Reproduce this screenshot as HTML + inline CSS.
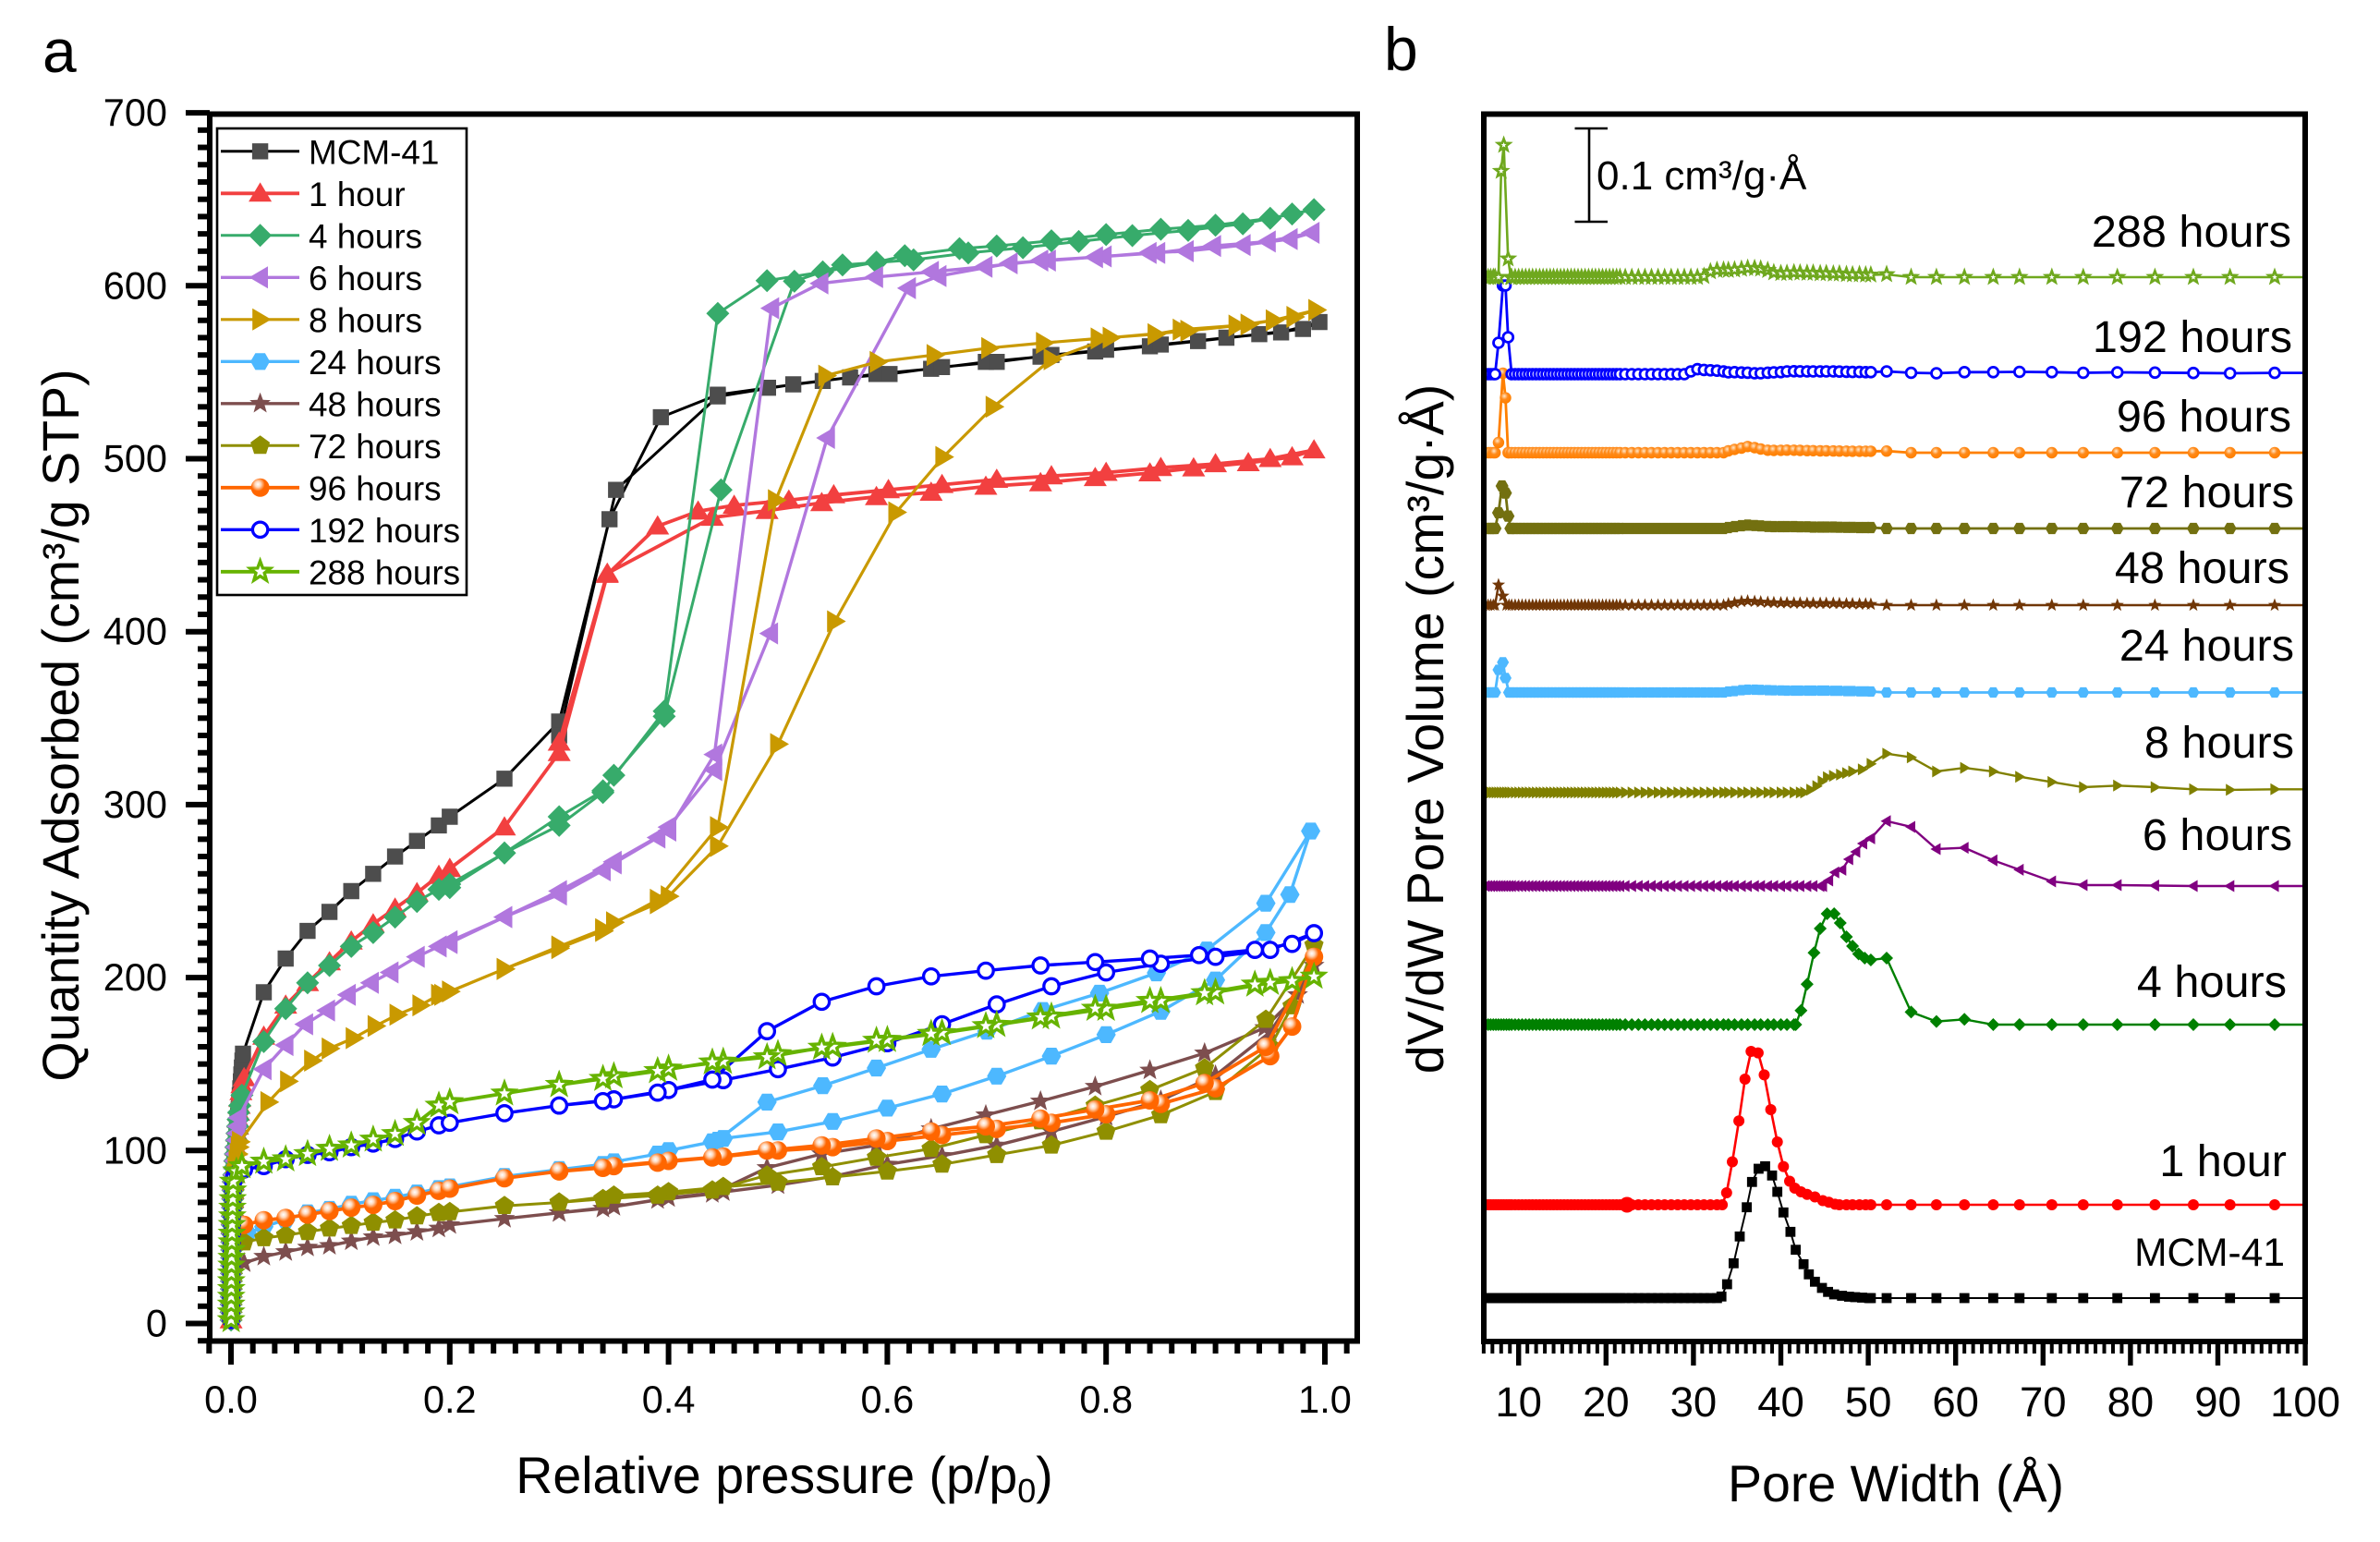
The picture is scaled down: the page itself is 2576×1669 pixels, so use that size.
<!DOCTYPE html>
<html lang="en">
<head>
<meta charset="utf-8">
<title>Nitrogen isotherms and pore size distributions</title>
<style>
html,body{margin:0;padding:0;background:#fff;}
svg{display:block;font-family:"Liberation Sans",sans-serif;fill:#000;}
</style>
</head>
<body>
<svg id="figure" xmlns="http://www.w3.org/2000/svg" width="2576" height="1669" viewBox="0 0 2576 1669">
<defs>
<radialGradient id="ballA" cx="0.38" cy="0.32" r="0.62"><stop offset="0" stop-color="#fff"/><stop offset="0.25" stop-color="#ffd9bd"/><stop offset="0.6" stop-color="#ff6600"/><stop offset="1" stop-color="#ff6600"/></radialGradient>
<radialGradient id="ballB" cx="0.4" cy="0.35" r="0.6"><stop offset="0" stop-color="#ffe6c8"/><stop offset="0.5" stop-color="#ff8a1a"/><stop offset="1" stop-color="#ff8000"/></radialGradient>
<clipPath id="clipB"><rect x="1606" y="123" width="889" height="1329"/></clipPath>
</defs>
<rect width="2576" height="1669" fill="#fff"/>
<text x="46" y="78" font-size="66">a</text>
<text x="1498" y="76" font-size="66">b</text>
<g id="panelA"></g>
<g id="panelB"></g>
<text transform="translate(85 785) rotate(-90)" text-anchor="middle" font-size="55.5">Quantity Adsorbed (cm³/g STP)</text>
<text x="849" y="1616" text-anchor="middle" font-size="55.5">Relative pressure (p/p<tspan font-size="36" dy="10">0</tspan><tspan dy="-10">)</tspan></text>
<text transform="translate(1562 789) rotate(-90)" text-anchor="middle" font-size="55.5">dV/dW Pore Volume (cm³/g·Å)</text>
<text x="2052" y="1625" text-anchor="middle" font-size="55.5">Pore Width (Å)</text>
<g stroke="#000" stroke-width="2.6" fill="none">
<path d="M1720 139V240M1704.5 139H1740M1704.5 240H1740"/>
</g>
<text x="1728" y="205" font-size="44">0.1 cm³/g·Å</text>
<g font-size="48.6" text-anchor="end">
<text x="2480" y="267">288 hours</text>
<text x="2481" y="381">192 hours</text>
<text x="2480" y="467">96 hours</text>
<text x="2483" y="549">72 hours</text>
<text x="2478" y="631">48 hours</text>
<text x="2483" y="715">24 hours</text>
<text x="2483" y="820">8 hours</text>
<text x="2481" y="920">6 hours</text>
<text x="2475" y="1079">4 hours</text>
<text x="2475" y="1273">1 hour</text>
<text x="2473" y="1370" font-size="42.5">MCM-41</text>
</g>
</svg>
<script>
// ---------- Panel a data ----------
const seriesNames = ["MCM-41","1 hour","4 hours","6 hours","8 hours","24 hours","48 hours","72 hours","96 hours","192 hours","288 hours"];
const yTicksA = [0,100,200,300,400,500,600,700];
const xTicksA = [0,0.2,0.4,0.6,0.8,1.0];
const xTickLabelsA = ["0.0","0.2","0.4","0.6","0.8","1.0"];
const lowP = [0.0001,0.0001,0.0002,0.0002,0.0003,0.0003,0.0004,0.0005,0.0006,0.0007,0.0008,0.0009,0.001,0.0012,0.0014,0.0016,0.0018,0.002];
const lowQ = [2,6.5,11,15.5,20,24.5,29,33.5,38,42.5,47,52,57,62,67,72,77,82];

const pMcm = [0.0025,0.003,0.0035,0.004,0.0045,0.005,0.0055,0.006,0.0065,0.007,0.0075,0.008,0.0085,0.009,0.0095,0.01,0.0105,0.011,0.03,0.05,0.07,0.09,0.11,0.13,0.15,0.17,0.19,0.2,0.25,0.3,0.346,0.393,0.445,0.491,0.541,0.59,0.64,0.69,0.74,0.79,0.84,0.884,0.94,0.98,0.995,0.96,0.91,0.85,0.8,0.75,0.7,0.65,0.602,0.566,0.514,0.445,0.352,0.3];
const qMcm = [88,92,96,100,104,108,112,116,120,124,128,132,136,140,144,148,152,156,191.5,211,227,238,250,260,270,279,288,293,315,348,465,524,537,541,545,549,552,556,559,562,565,568,572,575,579,573,570,566,563,560,556,553,549,547,543,536,482,340];

const p1h = [0.0025,0.003,0.0035,0.004,0.0045,0.005,0.0055,0.006,0.0065,0.007,0.0075,0.008,0.009,0.01,0.012,0.03,0.05,0.07,0.09,0.11,0.13,0.15,0.17,0.19,0.2,0.25,0.3,0.344,0.39,0.427,0.46,0.51,0.551,0.601,0.65,0.7,0.75,0.8,0.85,0.9,0.95,0.99,0.97,0.93,0.88,0.84,0.79,0.74,0.69,0.64,0.59,0.54,0.49,0.44,0.344,0.3];
const q1h = [86,90,94,98,102,106,110,114,118,122,126,130,134,138,142,166,184,197,209,221,231,240,249,259,263,287,330,433,461,469.6,473,476,479,482,485,488,490,492,494.8,497,500,505,501,497.6,494.6,491.7,489,486,484,480.5,478,474.5,470,466,433.7,336];

const p4h = [0.0025,0.003,0.0035,0.004,0.0045,0.005,0.0055,0.006,0.0065,0.007,0.008,0.01,0.03,0.05,0.07,0.09,0.11,0.13,0.15,0.17,0.19,0.2,0.25,0.3,0.34,0.35,0.396,0.448,0.515,0.559,0.624,0.674,0.724,0.775,0.824,0.875,0.925,0.97,0.99,0.95,0.9,0.85,0.8,0.75,0.7,0.666,0.616,0.59,0.541,0.49,0.445,0.396,0.34,0.3,0.25,0.2];
const q4h = [86,90,94,98,102,106,110,114,118,122,126,132,163,182,197,207,218,226,235,244,251,254,272,288,307,317,351,482,602.6,612,615,619,622,625.6,629,632,635.8,641.5,644,639,635,632.7,629.6,626,623,621.5,617.4,613.6,608,603,584,354,308,293,272,252];

const p6h = [0.0025,0.003,0.0035,0.004,0.0045,0.005,0.0055,0.006,0.007,0.03,0.05,0.068,0.088,0.107,0.128,0.146,0.17,0.19,0.2,0.25,0.3,0.34,0.35,0.39,0.4,0.442,0.493,0.545,0.619,0.647,0.712,0.747,0.798,0.847,0.898,0.948,0.988,0.968,0.925,0.873,0.839,0.79,0.74,0.689,0.64,0.589,0.539,0.494,0.442,0.4,0.35,0.3,0.25,0.2];
const q6h = [86,90,94,98,102,106,110,114,119,147,161,173,181,190,197,203,212,218,221,235,248,262,266,281,287,320,399,512,598.6,605.6,613,614.6,617,619,623,625.6,630.6,627,623.5,620,619,616.5,614.6,611,608,605,601.4,587,329,285,267,250,235,220];

const p8h = [0.003,0.004,0.005,0.006,0.007,0.008,0.034,0.052,0.074,0.09,0.112,0.132,0.152,0.173,0.19,0.2,0.25,0.3,0.34,0.35,0.39,0.4,0.445,0.5,0.552,0.608,0.651,0.697,0.75,0.804,0.875,0.93,0.972,0.992,0.953,0.919,0.868,0.845,0.793,0.743,0.693,0.643,0.591,0.544,0.498,0.445,0.39,0.34,0.3,0.25,0.193];
const q8h = [86,90,94,98,102,105,128,140,152,159,165,172,178.5,184,190,192,205,217,227,232,243,247,276,335,406,469,501,530,557.5,570,574,577.6,582,586,580,577,574.6,572,569.5,567,564,560,556,548,476,287,245,228,218,205,190];

const p24h = [0.015,0.03,0.05,0.07,0.09,0.11,0.13,0.15,0.17,0.19,0.2,0.25,0.3,0.34,0.35,0.39,0.4,0.44,0.45,0.5,0.55,0.6,0.65,0.7,0.75,0.8,0.85,0.9,0.946,0.968,0.987,0.946,0.892,0.846,0.794,0.742,0.691,0.64,0.59,0.541,0.49,0.445];
const q24h = [52,56,60,64,66,69,71,73,75.5,78,79,85,89,92,93.5,98,100,105,107,110.8,116.8,124.5,132.7,143,154.6,167,180.5,198.6,226,248,284.7,243,216,202.7,191,181,169,158.5,147.7,137.5,128,106];

const p48h = [0.012,0.03,0.05,0.07,0.09,0.11,0.13,0.15,0.17,0.19,0.2,0.25,0.3,0.35,0.4,0.45,0.5,0.55,0.6,0.65,0.7,0.75,0.8,0.85,0.9,0.95,0.99,0.975,0.945,0.89,0.84,0.79,0.74,0.69,0.64,0.59,0.54,0.49,0.44,0.39,0.34,0.3];
const q48h = [35,38.7,41.4,44,45,47.6,50,51,53,55,57,60.6,64,67.5,72.6,76,80,85,92,97,103,111,119.6,129,143.5,168.5,207,190,171,156.3,146.4,137,128.5,120.5,112.5,103,98,90,75,71.5,66.5,64];

const p72h = [0.012,0.03,0.05,0.07,0.09,0.11,0.13,0.15,0.17,0.19,0.2,0.25,0.3,0.35,0.4,0.45,0.5,0.55,0.6,0.65,0.7,0.75,0.8,0.85,0.9,0.95,0.97,0.99,0.946,0.89,0.84,0.79,0.74,0.69,0.64,0.59,0.54,0.49,0.44,0.39,0.34,0.3];
const q72h = [47,49.4,51,53,55,56.5,58.4,59.7,62,64,64.5,68,70,74,76,79,81.5,84.6,88,92,97.5,103,111,120.5,134,160,183.5,218.7,175.7,147.6,135,126,117,109,101,96,90.5,85.7,77,74,72,70];

const p96h = [0.012,0.03,0.05,0.07,0.09,0.11,0.13,0.15,0.17,0.19,0.2,0.25,0.3,0.35,0.4,0.45,0.5,0.55,0.6,0.65,0.7,0.75,0.8,0.85,0.9,0.95,0.97,0.99,0.946,0.89,0.84,0.79,0.74,0.69,0.64,0.59,0.54,0.49,0.44,0.39,0.34,0.3];
const q96h = [57,59.7,61,63,65,67,68.6,70.8,74,76.7,78,84,88,91,94,96.5,100,102,105.5,109,112.5,116,121,127,136,154.6,171.7,212,160,139,129,123.7,118.5,114,111,107,103,100,96,93,90,88];

const p192h = [0.003,0.006,0.012,0.03,0.05,0.07,0.09,0.11,0.13,0.15,0.17,0.19,0.2,0.25,0.3,0.35,0.4,0.45,0.5,0.55,0.6,0.65,0.7,0.75,0.8,0.85,0.9,0.95,0.99,0.97,0.936,0.885,0.84,0.79,0.74,0.69,0.64,0.59,0.54,0.49,0.44,0.39,0.34,0.3];
const q192h = [85,87,89,91,95,97.5,99,102,104,106.7,111,114.6,116,121.6,126,129.6,135,140.7,147,153.8,162,173,184.5,195,203,208,212,216,225.7,219.5,216,213,211,209,207,204,200.7,195,186,169,141,133.5,128.6,126];

const p288h = [0.005,0.01,0.03,0.05,0.07,0.09,0.11,0.13,0.15,0.17,0.19,0.2,0.25,0.3,0.35,0.4,0.45,0.5,0.55,0.6,0.65,0.7,0.75,0.8,0.85,0.9,0.95,0.99,0.97,0.936,0.89,0.84,0.79,0.74,0.69,0.64,0.59,0.54,0.49,0.44,0.39,0.34,0.3];
const q288h = [88,91,93.6,95,98,101,103,106.4,109.6,116,126,128,133,138,143,147.4,151.4,155.8,160,164,168,172.7,177.5,182,186.5,191.5,197,200.6,198,196,191,186.5,182,177,172,167.5,163.5,159.5,154,151,146,141.5,138];

// ---------- Panel b data ----------
const xTicksB = [10,20,30,40,50,60,70,80,90,100];
const gridDense = [6.2,6.5,6.8,7.1,7.4,7.7,8,8.3,8.6,8.9,9.2,9.6,10,10.4,10.8,11.2,11.6,12,12.4,12.8,13.2,13.6,14,14.4,14.8,15.2,15.6,16,16.4,16.8,17.2,17.6,18,18.4,18.8,19.2,19.6,20,20.4,20.8,21.2,21.6];
const gridMedium = [22.2,22.95,23.7,24.45,25.2,25.95,26.7,27.45,28.2,28.95,29.7,30.45,31.2,31.95,32.7,33.45];
const gridFine = [34,34.7,35.5,36.2,37,37.7,38.5,39.2,40,40.7,41.5,42.2,43,43.7,44.5,45.2,46,46.7,47.5,48.2,49,49.7,50.3];
const gridSparse = [52.1,54.9,57.8,61,64.3,67.3,71,74.6,78.5,82.8,87.2,91.4,96.5];
// curve baselines, 1e-3 cm3/g/A
const baselines = [47,148,343,493,594.3,702.5,797,880,962,1047,1152];
// non-flat portions of each distribution, 1e-3 cm3/g/A above its baseline
const bumpXMcm = [33.2,33.85,34.6,35.3,36.1,36.7,37.45,38.2,39,39.6,40.3,41.1,41.7,42.6,43.2,43.9,44.7,45.4,46.1,47,47.8,48.5,49.3,50.1];
const bumpYMcm = [1.7,15,37.7,66.7,98.3,125.7,140,142.7,132.7,115,92.7,71.7,52.3,36.7,25.7,17.7,11,6.7,4,2.5,1.5,1,0.5,0];
const bumpX1h = [33.3,33.8,34.45,35.2,35.9,36.6,37.4,38.1,38.85,39.6,40.3,41,41.6,42.3,43,43.9,44.8,45.5,46.2];
const bumpY1h = [0,13,46.5,90.7,136,166,164.4,140.6,103,68,41.4,25.5,18,14,11.3,8.5,4.5,2.8,0.6];
const bumpX4h = [41.7,42.3,43,43.8,44.5,45.3,46.1,46.8,47.5,48.2,48.9,49.6,50.3,52.1,54.9,57.8,61,64.3];
const bumpY4h = [0,15.3,43.7,77.7,104,120,120,110,95,85,76.5,72,70,72,13.6,3.4,5.7,0];
const bumpX6h = [44.8,45.5,46.2,47,47.8,48.6,49.4,50.3,52.1,54.9,57.8,61,64.3,67.3,71,74.6,78.5,82.8];
const bumpY6h = [0,6,14.7,17.6,29,37,46,51.6,70.3,64,40,41.4,27.8,17.6,5,1,1,0.5];
const bumpX8h = [42.7,43.4,44.1,44.7,45.3,46,46.8,47.5,48.2,49.3,50.3,52.1,54.9,57.8,61,64.3,67.3,71,74.6,78.5,82.8,87.2,91.4,96.5];
const bumpY8h = [0,3,6.8,12,16.4,18,19.3,21,22.7,25,31,42,38,22.7,26.6,22.7,17,11.3,5.7,7.4,5.7,3.4,2.8,3.4];
const peakX24h = [7.3,7.7,8.2,8.5,8.9];
const peakY24h = [0,24.5,32.6,15.6,0];
const bumpX24h = [34,34.7,35.5,36.2,37,37.7,38.5,39.2,40,40.7,41.5,42.2,43,43.7,44.5,45.2,46,46.7,47.5,48.2,49,49.7,50.3];
const bumpY24h = [1,1.5,2.5,3,3,2.8,2.5,2.3,2.2,2,2,2,2,2,2,2,1.8,1.8,1.5,1.5,1.2,1.2,1];
const peakX48h = [7.3,7.7,8.2,8.6];
const peakY48h = [0,22,10,0];
const bumpX48h = [34,34.7,35.5,36.2,37,37.7,38.5,39.2,40,40.7,41.5,42.2,43,43.7,44.5,45.2,46,46.7,47.5,48.2,49,49.7,50.3];
const bumpY48h = [1.5,2.5,4,4.5,4,3.5,3,2.7,2.5,2.5,2.2,2.2,2,2,2,2,2,1.8,1.5,1.5,1.2,1.2,1];
const peakX72h = [7.3,7.7,8.1,8.5,8.8,9.1];
const peakY72h = [0,17,46,38.4,13.4,0];
const bumpX72h = [34,34.7,35.5,36.2,37,37.7,38.5,39.2,40,40.7,41.5,42.2,43,43.7,44.5,45.2,46,46.7,47.5,48.2,49,49.7,50.3];
const bumpY72h = [1,2,3,3.6,3.2,2.8,2.2,2,2,2,2,1.8,1.8,1.5,1.5,1.5,1.5,1.3,1.2,1.2,1,1,1];
const peakX96h = [7.3,7.7,8.2,8.5,8.8];
const peakY96h = [0,11,86,59.4,0];
const bumpX96h = [34,34.7,35.5,36.2,37,37.7,38.5,39.2,40,40.7,41.5,42.2,43,43.7,44.5,45.2,46,46.7,47.5,48.2,49,49.7,50.3,52.1];
const bumpY96h = [2,3.6,5,6.7,5.5,4,2.7,2.5,2.6,2.8,2.7,2.5,2.3,2.2,2,2,1.9,1.8,1.7,1.6,1.6,1.6,1.6,1.8];
const peakX192h = [7.3,7.7,8.2,8.5,8.8,9.2];
const peakY192h = [0,34,96,96,40,0];
const bumpX192h = [28.95,29.7,30.45,31.2,31.95,32.7,33.45,34,34.7,35.5,36.2,37,37.7,38.5,39.2,40,40.7,41.5,42.2,43,43.7,44.5,45.2,46,46.7,47.5,48.2,49,49.7,50.3,52.1,54.9,57.8,61,64.3,67.3,71,74.6,78.5,82.8,87.2,91.4,96.5];
const bumpY192h = [0,3,5.4,4.6,4.2,3.8,3,2,2.2,1.8,1.6,1,1,1.6,2,2.2,3,3.2,3.1,3,3,3,3,3,2.8,2.6,2.4,2.4,2.2,2.2,3,1.5,1,2.2,2.2,2.5,2.2,1.5,2,1.7,1.3,1,1.4];
const peakX288h = [7.3,7.7,8,8.3,8.8,9.1];
const peakY288h = [0,0,114.8,143,20,0];
const bumpX288h = [30.45,31.2,31.95,32.7,33.45,34,34.7,35.5,36.2,37,37.7,38.5,39.2,40,40.7,41.5,42.2,43,43.7,44.5,45.2,46,46.7,47.5,48.2,49,49.7,50.3,52.1,54.9];
const bumpY288h = [0,1,6,7.6,7.8,7.6,8,8.8,9.8,9.6,9,7.5,5,4.2,4.4,5,4.8,4.5,4.6,4,4.2,3.6,3.8,3,2.8,3,2.6,2.5,3,0];
const blip1hX = [22.4];
const blip1hY = [0];

// ---------- Axis functions ----------
function xA(p){return 250+p*1184;}
function yA(q){return 1432.5-q*1.872;}
function xB(w){return 1643.7+(w-10)*9.46;}
function yB(m){return 1452-m;}

// ---------- Styles ----------
const stylesA = [
 {line:"#000",w:3,fill:"#4d4d4d",shape:"square",r:8.7},
 {line:"#f24040",w:3.8,fill:"#f24040",shape:"up",r:12.5},
 {line:"#37ab6b",w:3,fill:"#37ab6b",shape:"diamond",r:12.5},
 {line:"#b177de",w:3.4,fill:"#b177de",shape:"left",r:12},
 {line:"#c99900",w:3.2,fill:"#c99900",shape:"right",r:12},
 {line:"#4db8ff",w:3.4,fill:"#4db8ff",shape:"hex",r:10.5},
 {line:"#7d4e4e",w:3.4,fill:"#7d4e4e",shape:"star",r:12},
 {line:"#8f8f00",w:3,fill:"#8f8f00",shape:"pent",r:11},
 {line:"#ff6600",w:3.8,fill:"url(#ballA)",shape:"ball",r:10},
 {line:"#0000ff",w:3.4,fill:"#fff",stroke:"#0000ff",shape:"ball",r:8.2},
 {line:"#66b300",w:3.8,fill:"#fff",stroke:"#66b300",shape:"star",r:11.5}
];
const stylesB = [
 {line:"#000",w:2,fill:"#000",shape:"square",r:5.4},
 {line:"#ff0000",w:2.6,fill:"#ff0000",shape:"ball",r:6},
 {line:"#008000",w:2.4,fill:"#008000",shape:"diamond",r:7},
 {line:"#800080",w:2.4,fill:"#800080",shape:"left",r:6.5},
 {line:"#808000",w:2.4,fill:"#808000",shape:"right",r:6.5},
 {line:"#4db8ff",w:2.8,fill:"#4db8ff",shape:"hex",r:6.5},
 {line:"#703606",w:2.4,fill:"#703606",shape:"star",r:7.5},
 {line:"#737010",w:2.8,fill:"#737010",shape:"hex",r:7},
 {line:"#ff8000",w:2.8,fill:"url(#ballB)",shape:"ball",r:6.2},
 {line:"#0000ff",w:2.8,fill:"#fff",stroke:"#0000ff",shape:"ball",r:5.4},
 {line:"#6fa81e",w:2.6,fill:"#fff",stroke:"#6fa81e",shape:"star",r:6.8}
];

// ---------- Helpers ----------
const NS = "http://www.w3.org/2000/svg";
function make(tag, attrs, parent){
  const e = document.createElementNS(NS, tag);
  for (const k in attrs) e.setAttribute(k, attrs[k]);
  parent.appendChild(e);
  return e;
}
function shapePoints(shape, r){
  const pts = [];
  if (shape==="square") return [[-r,-r],[r,-r],[r,r],[-r,r]];
  if (shape==="up") return [[0,-r*0.95],[r,r*0.72],[-r,r*0.72]];
  if (shape==="diamond") return [[0,-r],[r,0],[0,r],[-r,0]];
  if (shape==="left") return [[-r,0],[r*0.7,-r],[r*0.7,r]];
  if (shape==="right") return [[r,0],[-r*0.7,-r],[-r*0.7,r]];
  if (shape==="hex"){for(let i=0;i<6;i++){const a=i*Math.PI/3;pts.push([r*Math.cos(a),r*Math.sin(a)]);}return pts;}
  if (shape==="pent"){for(let i=0;i<5;i++){const a=-Math.PI/2+i*2*Math.PI/5;pts.push([r*Math.cos(a),r*Math.sin(a)]);}return pts;}
  if (shape==="star"){for(let i=0;i<10;i++){const a=-Math.PI/2+i*Math.PI/5;const q=i%2?r*0.42:r;pts.push([q*Math.cos(a),q*Math.sin(a)]);}return pts;}
  return pts;
}
function drawMarker(parent, s, x, y){
  let m;
  const sw = s.stroke ? (s.shape==="star"?(s.r>9?3.4:2.6):(s.r>7?3.3:2.8)) : 0;
  const paint = s.stroke ? {stroke:s.stroke,"stroke-width":sw} : {};
  if (s.shape==="ball"){
    m = make("circle", Object.assign({cx:x.toFixed(1),cy:y.toFixed(1),r:s.r,fill:s.fill},paint), parent);
  } else {
    const pts = shapePoints(s.shape,s.r).map(function(c){return (x+c[0]).toFixed(1)+","+(y+c[1]).toFixed(1);}).join(" ");
    m = make("polygon", Object.assign({points:pts,fill:s.fill},paint), parent);
  }
  
  
  return m;
}
function drawTick(parent, x1,y1,x2,y2,w,name){
  const t = make("line",{x1:x1,y1:y1,x2:x2,y2:y2,stroke:"#000","stroke-width":w},parent);
  
  
}
function kebab(s){return s.toLowerCase().replace(/[^a-z0-9]+/g,"-");}

// ---------- Panel a ----------
const panelA = document.getElementById("panelA");
const seriesP = [pMcm,p1h,p4h,p6h,p8h,p24h,p48h,p72h,p96h,p192h,p288h];
const seriesQ = [qMcm,q1h,q4h,q6h,q8h,q24h,q48h,q72h,q96h,q192h,q288h];

(function(){
  const ticks = make("g",{},panelA);
  
  
  for (let i=-1;i<=51;i++){
    const major = i%10===0;
    const x = xA(i*0.02);
    drawTick(ticks,x,1451,x,major?1477:1465,6,major?'x-major-tick':'x-minor-tick');
  }
  for (let v=-10;v<=700;v+=10){
    const major = v%100===0;
    const y = yA(v);
    drawTick(ticks,227,y,major?201:214,y,6,major?'y-major-tick':'y-minor-tick');
  }
  for (let i=0;i<yTicksA.length;i++){
    const t = make("text",{x:181,y:yA(yTicksA[i])+14,"text-anchor":"end","font-size":41.5},panelA);
    t.textContent = String(yTicksA[i]);
    
    
  }
  for (let i=0;i<xTicksA.length;i++){
    const t = make("text",{x:xA(xTicksA[i]),y:1529,"text-anchor":"middle","font-size":41.5},panelA);
    t.textContent = xTickLabelsA[i];
    
    
  }
  for (let i=0;i<seriesNames.length;i++){
    const s = stylesA[i];
    const g = make("g",{},panelA);
    
    
    const first = seriesQ[i][0];
    const px = [], py = [];
    for (let j=0;j<lowQ.length;j++){
      if (lowQ[j] < first){px.push(lowP[j]);py.push(lowQ[j]);}
    }
    for (let j=0;j<seriesP[i].length;j++){px.push(seriesP[i][j]);py.push(seriesQ[i][j]);}
    const pts = px.map(function(p,j){return xA(p).toFixed(1)+","+yA(py[j]).toFixed(1);}).join(" ");
    const ln = make("polyline",{points:pts,fill:"none",stroke:s.line,"stroke-width":s.w,"stroke-linejoin":"round"},g);
    
    
    for (let j=0;j<px.length;j++) drawMarker(g,s,xA(px[j]),yA(py[j]));
  }
  const frame = make("rect",{x:227,y:123.5,width:1242,height:1328,fill:"none",stroke:"#000","stroke-width":6},panelA);
  
  
  const legend = make("g",{},panelA);
  
  
  const box = make("rect",{x:235,y:139,width:270,height:505,fill:"#fff",stroke:"#000","stroke-width":2.6},legend);
  
  
  for (let i=0;i<seriesNames.length;i++){
    const s = stylesA[i];
    const cy = 163.8+i*45.5;
    const e = make("g",{},legend);
    
    
    const l = make("line",{x1:239,y1:cy,x2:324,y2:cy,stroke:s.line,"stroke-width":s.w},e);
    
    
    drawMarker(e,s,281.6,cy);
    const t = make("text",{x:334,y:cy+13.5,"font-size":36.9},e);
    t.textContent = seriesNames[i];
    
    
  }
})();

// ---------- Panel b ----------
const panelB = document.getElementById("panelB");
const peaksX = [[],[],[],[],[],peakX24h,peakX48h,peakX72h,peakX96h,peakX192h,peakX288h];
const peaksY = [[],[],[],[],[],peakY24h,peakY48h,peakY72h,peakY96h,peakY192h,peakY288h];
const bumpsX = [bumpXMcm,bumpX1h,bumpX4h,bumpX6h,bumpX8h,bumpX24h,bumpX48h,bumpX72h,bumpX96h,bumpX192h,bumpX288h];
const bumpsY = [bumpYMcm,bumpY1h,bumpY4h,bumpY6h,bumpY8h,bumpY24h,bumpY48h,bumpY72h,bumpY96h,bumpY192h,bumpY288h];

(function(){
  const ticks = make("g",{},panelB);
  
  
  for (let w=6;w<=100;w++){
    const major = w%10===0;
    const x = xB(w);
    drawTick(ticks,x,1452,x,major?1478:1465,major?5.4:4,major?'x-major-tick':'x-minor-tick');
  }
  for (let i=0;i<xTicksB.length;i++){
    const t = make("text",{x:xB(xTicksB[i]),y:1533,"text-anchor":"middle","font-size":45.5},panelB);
    t.textContent = String(xTicksB[i]);
    
    
  }
  const allGrid = gridDense.concat(gridMedium,gridFine,gridSparse);
  const curves = make("g",{"clip-path":"url(#clipB)"},panelB);
  
  
  for (let i=0;i<seriesNames.length;i++){
    const s = stylesB[i];
    const g = make("g",{},curves);
    
    
    const px = peaksX[i], bx = bumpsX[i];
    const pts = [];
    for (let j=0;j<allGrid.length;j++){
      const w = allGrid[j];
      const inPeak = px.length && w>=px[0] && w<=px[px.length-1];
      const inBump = w>=bx[0] && w<=bx[bx.length-1];
      if (!inPeak && !inBump) pts.push([w,0]);
    }
    for (let j=0;j<px.length;j++) pts.push([px[j],peaksY[i][j]]);
    for (let j=0;j<bx.length;j++) pts.push([bx[j],bumpsY[i][j]]);
    pts.sort(function(a,b){return a[0]-b[0];});
    const base = baselines[i];
    const tailValue = pts[pts.length-1][1];
    const d = pts.map(function(c){return xB(c[0]).toFixed(1)+","+yB(base+c[1]).toFixed(1);}).join(" ")+" "+xB(100)+","+yB(base+tailValue).toFixed(1);
    const ln = make("polyline",{points:d,fill:"none",stroke:s.line,"stroke-width":s.w},g);
    
    
    for (let j=0;j<pts.length;j++) drawMarker(g,s,xB(pts[j][0]),yB(base+pts[j][1]));
    if (i===1){
      drawMarker(g,{fill:s.fill,shape:"ball",r:8.5},xB(blip1hX[0]),yB(base+blip1hY[0]));
    }
  }
  const frame = make("rect",{x:1606,y:123.5,width:889,height:1328.5,fill:"none",stroke:"#000","stroke-width":6},panelB);
  
  
})();
</script>
</body>
</html>
